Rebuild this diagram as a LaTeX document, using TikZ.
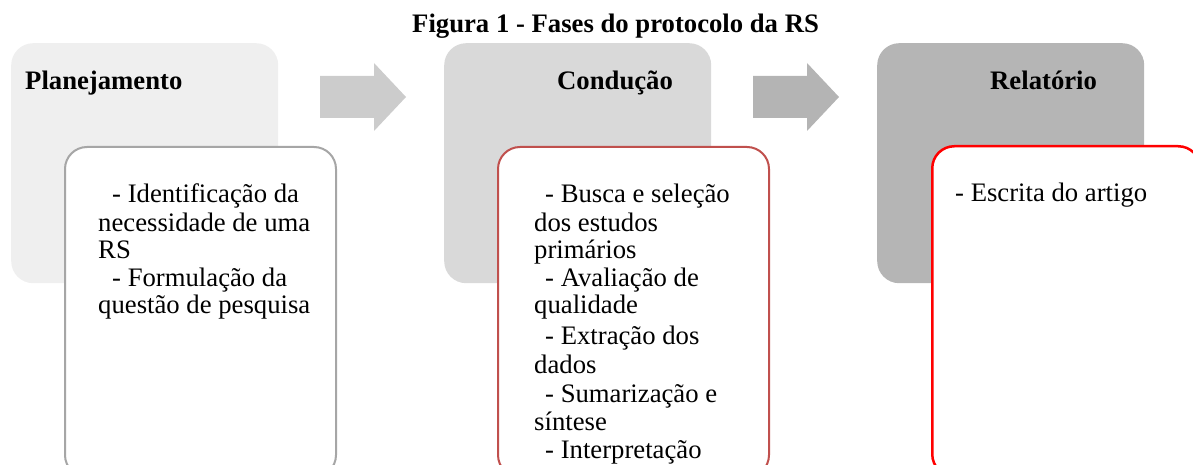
\documentclass[tikz,border=0pt]{standalone}
\usepackage{fontspec}
\setmainfont{Liberation Serif}
\definecolor{backA}{RGB}{239,239,239}
\definecolor{backB}{RGB}{217,217,217}
\definecolor{backC}{RGB}{181,181,181}
\definecolor{arrA}{RGB}{204,204,204}
\definecolor{arrB}{RGB}{180,180,180}
\definecolor{lineA}{RGB}{166,166,166}
\definecolor{lineB}{RGB}{192,80,77}
\definecolor{lineC}{RGB}{255,0,0}
\newcommand{\bodysize}{\fontsize{26.7}{28.3}\selectfont}
\begin{document}
\begin{tikzpicture}[x=1pt,y=-1pt,
  backbox/.style={anchor=north west, rounded corners=22pt, minimum width=267pt, minimum height=240pt, inner sep=0pt},
  frontbox/.style={anchor=north west, rounded corners=22pt, fill=white, line width=2pt, minimum height=330pt, inner sep=0pt},
  bt/.style={anchor=base west, inner sep=0pt, font=\bodysize},
  hd/.style={anchor=base west, inner sep=0pt, font=\bodysize\bfseries},
  blockarrow/.style={draw=none}]
\useasboundingbox (0,0) rectangle (1193,465);
\clip (0,0) rectangle (1193,465);

% title
\node[hd] (title) at (412,33) {Figura 1 - Fases do protocolo da RS};

% back boxes
\node[backbox, fill=backA] (b1) at (11,43) {};
\node[backbox, fill=backB] (b2) at (444,43) {};
\node[backbox, fill=backC] (b3) at (877,43) {};

% block arrows
\fill[arrA] (320,76) -- (374,76) -- (374,63) -- (406,97) -- (374,131) -- (374,118) -- (320,118) -- cycle;
\fill[arrB] (753,76) -- (807,76) -- (807,63) -- (839,97) -- (807,131) -- (807,118) -- (753,118) -- cycle;

% headers
\node[hd] (h1) at (25,90) {Planejamento};
\node[hd] (h2) at (557,90) {Condução};
\node[hd] (h3) at (990,90) {Relatório};

% front boxes
\node[frontbox, draw=lineA, minimum width=271pt] (f1) at (64,146) {};
\node[frontbox, draw=lineB, minimum width=271pt] (f2) at (497,146) {};
\node[frontbox, draw=lineC, line width=2.5pt, minimum width=268pt] (f3) at (931,145) {};

% Planejamento text
\node[bt] (p1) at (112,203) {- Identificação da};
\node[bt] (p2) at (98,231) {necessidade de uma};
\node[bt] (p3) at (98,258) {RS};
\node[bt] (p4) at (112,286) {- Formulação da};
\node[bt] (p5) at (98,313) {questão de pesquisa};

% Conducao text
\node[bt] (c1) at (545,203) {- Busca e seleção};
\node[bt] (c2) at (534,231) {dos estudos};
\node[bt] (c3) at (534,258) {primários};
\node[bt] (c4) at (545,286) {- Avaliação de};
\node[bt] (c5) at (534,313) {qualidade};
\node[bt] (c6) at (545,344) {- Extração dos};
\node[bt] (c7) at (534,373) {dados};
\node[bt] (c8) at (545,402) {- Sumarização e};
\node[bt] (c9) at (534,430) {síntese};
\node[bt] (c10) at (545,458) {- Interpretação};

% Relatorio text
\node[bt] (r1) at (955,201) {- Escrita do artigo};
\end{tikzpicture}
\end{document}
